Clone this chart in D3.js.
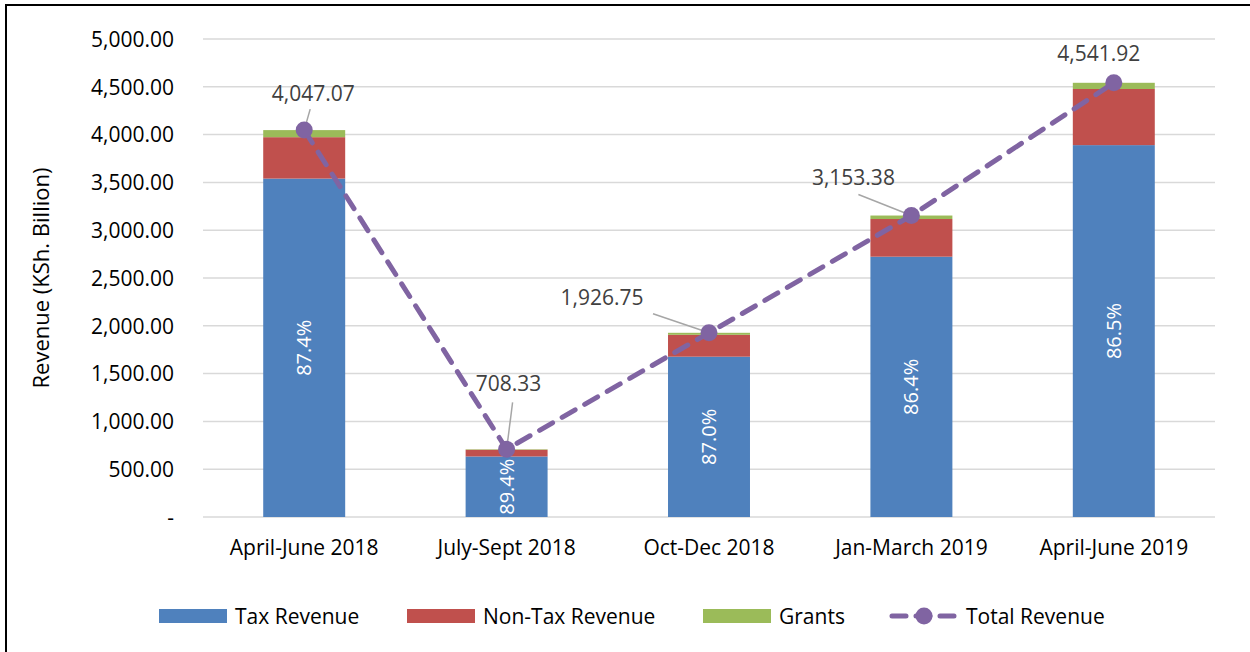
<!DOCTYPE html>
<html lang="en">
<head>
<meta charset="UTF-8">
<title>Revenue</title>
<script src="https://d3js.org/d3.v7.min.js"></script>
<style>
  body { margin: 0; background: #fff; }
  svg { font-family: 'Open Sans', 'Noto Sans', sans-serif; display: block; }
  .grid line { stroke: #d9d9d9; stroke-width: 1.5; }
  .tick text { fill: #000; }
</style>
</head>
<body>
<svg id="chart" width="1250" height="652"></svg>
<script>
  var categories = ["April-June 2018", "July-Sept 2018", "Oct-Dec 2018", "Jan-March 2019", "April-June 2019"];
  var taxRevenue = [3540.0, 633.2, 1677.0, 2723.0, 3890.0];
  var nonTaxRevenue = [433.0, 70.1, 229.0, 394.0, 587.0];
  var grants = [74.07, 5.03, 20.75, 36.38, 64.92];
  var totalRevenue = [4047.07, 708.33, 1926.75, 3153.38, 4541.92];
  var taxShare = ["87.4%", "89.4%", "87.0%", "86.4%", "86.5%"];
  var yTicks = [0, 500, 1000, 1500, 2000, 2500, 3000, 3500, 4000, 4500, 5000];

  // label position and leader start, relative to each point
  var labelOffsets = [[9, -29], [2, -58], [-107, -28], [-58, -31], [-15, -22]];
  var leaderStarts = [[6, -21], [6, -47], [-56, -19], [-53, -21], null];

  var colors = { tax: "#4F81BD", nontax: "#C0504D", grants: "#9BBB59", total: "#8064A2" };
  var FS = "21px";

  var svg = d3.select("#chart");

  // frame
  svg.append("rect")
    .attr("x", 6).attr("y", 5)
    .attr("width", 1260).attr("height", 660)
    .attr("fill", "none").attr("stroke", "#000").attr("stroke-width", 2);

  var plotLeft = 203, plotRight = 1215, plotTop = 39, plotBottom = 517;

  var x = d3.scaleBand().domain(categories).range([plotLeft, plotRight]).paddingInner(0.595).paddingOuter(0.2975);
  var y = d3.scaleLinear().domain([0, 5000]).range([plotBottom, plotTop]);

  // gridlines
  svg.append("g").attr("class", "grid")
    .selectAll("line").data(yTicks).join("line")
    .attr("x1", plotLeft).attr("x2", plotRight)
    .attr("y1", function (d) { return y(d); })
    .attr("y2", function (d) { return y(d); });

  // y axis labels
  var fmt = d3.format(",.2f");
  var yAxis = d3.axisLeft(y).tickValues(yTicks).tickSize(0).tickPadding(29)
    .tickFormat(function (d) { return d === 0 ? "-" : fmt(d); });
  var yg = svg.append("g").attr("transform", "translate(" + plotLeft + ",0)").call(yAxis)
    .attr("font-family", null).attr("font-size", null);
  yg.select(".domain").remove();
  yg.selectAll("text").style("font-size", FS).attr("dy", "0.35em");

  // x axis labels
  var xAxis = d3.axisBottom(x).tickSize(0).tickPadding(23);
  var xg = svg.append("g").attr("transform", "translate(0," + plotBottom + ")").call(xAxis)
    .attr("font-family", null).attr("font-size", null);
  xg.select(".domain").remove();
  xg.selectAll("text").style("font-size", FS);

  // y axis title
  svg.append("text")
    .attr("transform", "translate(49," + ((plotTop + plotBottom) / 2) + ") rotate(-90)")
    .attr("text-anchor", "middle")
    .style("font-size", "22px")
    .text("Revenue (KSh. Billion)");

  // stacked bars
  var rows = categories.map(function (c, i) {
    return { cat: c, tax: taxRevenue[i], nontax: nonTaxRevenue[i], grants: grants[i] };
  });
  var stack = d3.stack().keys(["tax", "nontax", "grants"])(rows);

  svg.append("g").selectAll("g").data(stack).join("g")
    .attr("fill", function (s) { return colors[s.key]; })
    .selectAll("rect").data(function (s) { return s; }).join("rect")
    .attr("x", function (d) { return x(d.data.cat); })
    .attr("width", x.bandwidth())
    .attr("y", function (d) { return y(d[1]); })
    .attr("height", function (d) { return y(d[0]) - y(d[1]); });

  // share labels inside tax segment
  svg.append("g").selectAll("text").data(rows).join("text")
    .attr("transform", function (d) {
      var cx = x(d.cat) + x.bandwidth() / 2;
      var cy = (y(0) + y(d.tax)) / 2;
      return "translate(" + (cx + 7) + "," + cy + ") rotate(-90)";
    })
    .attr("text-anchor", "middle")
    .attr("fill", "#fff")
    .style("font-size", "20px")
    .text(function (d, i) { return taxShare[i]; });

  // total revenue line
  var pts = categories.map(function (c, i) {
    return [x(c) + x.bandwidth() / 2, y(totalRevenue[i])];
  });
  svg.append("path")
    .attr("d", d3.line()(pts))
    .attr("fill", "none")
    .attr("stroke", colors.total)
    .attr("stroke-width", 5)
    .attr("stroke-linecap", "round")
    .attr("stroke-dasharray", "15,11");

  // leader lines and labels
  var lab = svg.append("g");
  pts.forEach(function (p, i) {
    var o = labelOffsets[i], s = leaderStarts[i];
    if (s) {
      lab.append("line")
        .attr("x1", p[0] + s[0]).attr("y1", p[1] + s[1])
        .attr("x2", p[0]).attr("y2", p[1])
        .attr("stroke", "#a6a6a6").attr("stroke-width", 1.5);
    }
    lab.append("text")
      .attr("x", p[0] + o[0]).attr("y", p[1] + o[1])
      .attr("text-anchor", "middle")
      .attr("fill", "#404040")
      .style("font-size", FS)
      .text(fmt(totalRevenue[i]));
  });

  svg.append("g").selectAll("circle").data(pts).join("circle")
    .attr("cx", function (d) { return d[0]; })
    .attr("cy", function (d) { return d[1]; })
    .attr("r", 8.5)
    .attr("fill", colors.total);

  // legend
  var legend = [
    { name: "Tax Revenue", type: "bar", color: colors.tax, x: 159 },
    { name: "Non-Tax Revenue", type: "bar", color: colors.nontax, x: 407 },
    { name: "Grants", type: "bar", color: colors.grants, x: 703 },
    { name: "Total Revenue", type: "line", color: colors.total, x: 890 }
  ];
  var legendY = 616;
  legend.forEach(function (l) {
    var g = svg.append("g");
    if (l.type === "bar") {
      g.append("rect").attr("x", l.x).attr("y", legendY - 7).attr("width", 68).attr("height", 14).attr("fill", l.color);
    } else {
      g.append("line").attr("x1", l.x + 2).attr("x2", l.x + 64).attr("y1", legendY).attr("y2", legendY)
        .attr("stroke", l.color).attr("stroke-width", 5).attr("stroke-linecap", "round")
        .attr("stroke-dasharray", "14,10");
      g.append("circle").attr("cx", l.x + 34).attr("cy", legendY).attr("r", 8.5).attr("fill", l.color);
    }
    g.append("text").attr("x", l.x + 76).attr("y", legendY + 1).attr("dy", "0.35em")
      .style("font-size", FS).text(l.name);
  });
</script>
</body>
</html>
